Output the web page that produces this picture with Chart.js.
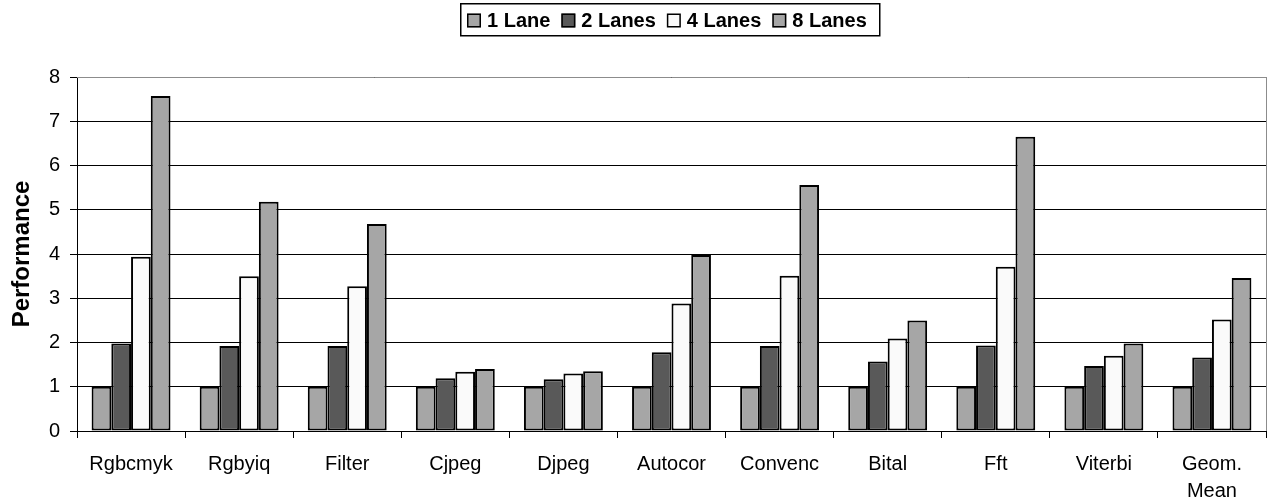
<!DOCTYPE html>
<html>
<head>
<meta charset="utf-8">
<script src="https://cdn.jsdelivr.net/npm/chart.js@4.4.1/dist/chart.umd.min.js"></script>
<style>
  html, body { margin: 0; padding: 0; background: #ffffff; }
  #wrap { width: 1270px; height: 498px; position: relative; }
</style>
</head>
<body>
<div id="wrap"><canvas id="chart" width="1270" height="498"></canvas></div>
<script>
// Benchmarks on the x axis
const categories = ['Rgbcmyk', 'Rgbyiq', 'Filter', 'Cjpeg', 'Djpeg', 'Autocor',
  'Convenc', 'Bital', 'Fft', 'Viterbi', ['Geom.', 'Mean']];

// Performance per lane count
const lane1 = [1, 1, 1, 1, 1, 1, 1, 1, 1, 1, 1];
const lane2 = [1.98, 1.92, 1.92, 1.19, 1.17, 1.78, 1.92, 1.57, 1.93, 1.47, 1.66];
const lane4 = [3.94, 3.50, 3.27, 1.34, 1.30, 2.88, 3.51, 2.09, 3.71, 1.70, 2.52];
const lane8 = [7.57, 5.18, 4.68, 1.40, 1.35, 3.98, 5.56, 2.50, 6.65, 1.98, 3.46];

const seriesNames = ['1 Lane', '2 Lanes', '4 Lanes', '8 Lanes'];
const seriesColors = ['#a6a6a6', '#595959', '#fafafa', '#a6a6a6'];
const yTicks = [0, 1, 2, 3, 4, 5, 6, 7, 8];

const FONT = 'Arial, "Liberation Sans", Helvetica, sans-serif';

// Framed legend row above the plot, plus the grey right edge of the plot area
const framePlugin = {
  id: 'frame',
  afterDraw(chart) {
    const ctx = chart.ctx;
    ctx.save();
    ctx.font = 'bold 20px ' + FONT;
    ctx.textBaseline = 'middle';
    ctx.textAlign = 'left';
    const sq = 14, gapText = 6, gapItem = 11, cy = 20.5;
    let x = 467;
    chart.data.datasets.forEach((ds) => {
      ctx.fillStyle = ds.backgroundColor;
      ctx.fillRect(x, cy - sq / 2, sq, sq);
      ctx.strokeStyle = '#000000';
      ctx.lineWidth = 1.5;
      ctx.strokeRect(x + 0.75, cy - sq / 2 + 0.75, sq - 1.5, sq - 1.5);
      const tx = x + sq + gapText;
      ctx.fillStyle = '#000000';
      ctx.fillText(ds.label, tx, cy + 1);
      x = tx + ctx.measureText(ds.label).width + gapItem;
    });
    ctx.strokeStyle = '#000000';
    ctx.lineWidth = 1.5;
    ctx.strokeRect(460.75, 3.75, Math.round(x - gapItem + 12 - 460), 32);

    const a = chart.chartArea;
    ctx.strokeStyle = '#8c8c8c';
    ctx.lineWidth = 1;
    ctx.beginPath();
    ctx.moveTo(Math.round(a.right) + 0.5, a.top);
    ctx.lineTo(Math.round(a.right) + 0.5, a.bottom);
    ctx.moveTo(a.left, Math.round(a.top) + 0.5);
    ctx.lineTo(a.right, Math.round(a.top) + 0.5);
    ctx.stroke();
    ctx.restore();
  }
};

const mk = (i, data) => ({
  label: seriesNames[i],
  data,
  backgroundColor: seriesColors[i],
  borderColor: '#000000',
  borderWidth: 2,
  borderSkipped: false,
  categoryPercentage: 0.73,
  barPercentage: 1.0
});

new Chart(document.getElementById('chart'), {
  type: 'bar',
  data: {
    labels: categories,
    datasets: [mk(0, lane1), mk(1, lane2), mk(2, lane4), mk(3, lane8)]
  },
  options: {
    responsive: false,
    animation: false,
    layout: { padding: { left: 0, right: 4, top: 77, bottom: 0 } },
    plugins: {
      tooltip: { enabled: false },
      legend: { display: false },
      frame: {}
    },
    scales: {
      x: {
        afterFit(scale) { scale.height = 67; },
        grid: {
          display: true,
          offset: true,
          drawOnChartArea: false,
          drawTicks: true,
          tickLength: 7,
          color: '#000000'
        },
        border: { display: true, color: '#000000', width: 1 },
        ticks: {
          color: '#000000',
          font: { family: FONT, size: 20, lineHeight: 1.35 },
          padding: 13,
          maxRotation: 0,
          autoSkip: false
        }
      },
      y: {
        min: 0,
        max: 8,
        afterFit(scale) { scale.width = 77; },
        afterBuildTicks(scale) { scale.ticks = yTicks.map(v => ({ value: v })); },
        grid: {
          color: '#000000',
          lineWidth: 1,
          drawTicks: true,
          tickLength: 7
        },
        border: { display: true, color: '#000000', width: 1 },
        ticks: {
          color: '#000000',
          font: { family: FONT, size: 20 },
          padding: 10
        },
        title: {
          display: true,
          text: 'Performance',
          color: '#000000',
          font: { family: FONT, size: 24, weight: 'bold' },
          padding: { top: 8, bottom: 0 }
        }
      }
    }
  },
  plugins: [framePlugin]
});
</script>
</body>
</html>
